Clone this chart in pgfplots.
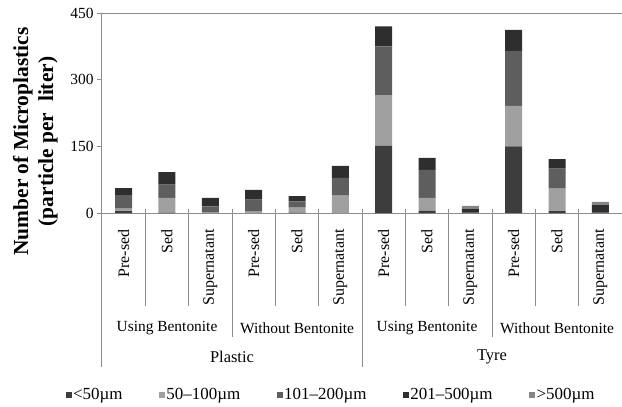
\documentclass[border=0pt]{standalone}
\usepackage{fontspec}
\setmainfont{Liberation Serif}
\usepackage{pgfplots}
\pgfplotsset{compat=1.18}

\definecolor{cA}{HTML}{3D3D3D}% <50
\definecolor{cB}{HTML}{A0A0A0}% 50-100
\definecolor{cC}{HTML}{5E5E5E}% 101-200
\definecolor{cD}{HTML}{2E2E2E}% 201-500
\definecolor{cE}{HTML}{858585}% >500
\definecolor{linecol}{HTML}{8C8C8C}

\newcommand{\fs}[1]{\fontsize{#1}{#1}\selectfont}
% separator from 4bp above the axis down to #2 below it
\newcommand{\sep}[2]{\draw[linecol, line width=1bp] ([yshift=4bp]axis cs:#1,0) -- ([yshift=-#2]axis cs:#1,0);}

\begin{document}
\begin{tikzpicture}
\begin{axis}[
    name=ax,
    scale only axis,
    width=520bp, height=200bp,
    ybar stacked, bar width=17bp,
    xmin=-0.5, xmax=11.5, ymin=0, ymax=450,
    clip=false,
    axis x line*=bottom, axis y line*=left,
    axis line style={linecol, line width=1bp},
    ytick={0,150,300,450},
    tick align=outside,
    major tick length=5bp,
    y tick style={linecol, line width=1bp},
    x tick style={draw=none},
    xtick={0,...,11},
    xticklabels={Pre-sed,Sed,Supernatant,Pre-sed,Sed,Supernatant,
                 Pre-sed,Sed,Supernatant,Pre-sed,Sed,Supernatant},
    xticklabel style={yshift=-8bp, rotate=90, anchor=east, font=\fs{16}},
    yticklabel style={font=\fs{15.5}},
    /pgf/number format/assume math mode=true,
    ylabel={Number of Microplastics\\(particle per~~liter)},
    ylabel style={at={(axis description cs:-0.128,0.3575)}, anchor=center,
                  align=center, font=\bfseries\fontsize{21.5}{25}\selectfont},
    legend columns=5,
    legend style={at={(axis description cs:0.44,-0.91)}, anchor=center,
                  draw=none, font=\fs{17},
                  nodes={inner xsep=1.5bp},
                  /tikz/every even column/.append style={column sep=35bp}},
    legend image code/.code={\fill[#1] (0bp,-3bp) rectangle (6bp,3bp);},
]
\addplot[fill=cA, draw=none] coordinates {(0,4) (1,1) (2,0) (3,0) (4,1) (5,0) (6,151) (7,5) (8,1) (9,150) (10,4) (11,1)};
\addlegendentry{<50µm}
\addplot[fill=cB, draw=none] coordinates {(0,6) (1,33) (2,1) (3,3) (4,11) (5,39) (6,114) (7,29) (8,0) (9,91) (10,51) (11,0)};
\addlegendentry{50--100µm}
\addplot[fill=cC, draw=none] coordinates {(0,30) (1,30) (2,14) (3,27) (4,14) (5,40) (6,110) (7,63) (8,0) (9,124) (10,45) (11,0)};
\addlegendentry{101--200µm}
\addplot[fill=cD, draw=none] coordinates {(0,16) (1,28) (2,19) (3,22) (4,12) (5,27) (6,45) (7,27) (8,9) (9,47) (10,21) (11,18)};
\addlegendentry{201--500µm}
\addplot[fill=cE, draw=none] coordinates {(0,0) (1,0) (2,0) (3,0) (4,0) (5,0) (6,0) (7,0) (8,6) (9,0) (10,0) (11,6)};
\addlegendentry{>500µm}

% top border line
\draw[linecol, line width=1bp] (rel axis cs:0,1) -- (rel axis cs:1,1);
% level 1 separators
\sep{0.5}{93bp}\sep{1.5}{93bp}\sep{3.5}{93bp}\sep{4.5}{93bp}
\sep{6.5}{93bp}\sep{7.5}{93bp}\sep{9.5}{93bp}\sep{10.5}{93bp}
% level 2 separators
\sep{2.5}{124bp}\sep{8.5}{124bp}
% level 3 separators
\draw[linecol, line width=1bp] (axis cs:-0.5,0) -- ([yshift=-154bp]axis cs:-0.5,0);
\sep{5.5}{154bp}

% group labels
\node[font=\fs{15.5}] at (axis cs:1,0) [yshift=-115bp] {Using Bentonite};
\node[font=\fs{15.5}] at (axis cs:4,0) [yshift=-115bp] {Without Bentonite};
\node[font=\fs{15.5}] at (axis cs:7,0) [yshift=-115bp] {Using Bentonite};
\node[font=\fs{15.5}] at (axis cs:10,0) [yshift=-115bp] {Without Bentonite};
\node[font=\fs{16.5}] at (axis cs:2.5,0) [yshift=-143.5bp] {Plastic};
\node[font=\fs{16.5}] at (axis cs:8.5,0) [yshift=-143.5bp] {Tyre};
\end{axis}
\pgfresetboundingbox
\useasboundingbox (ax.south west) ++(-102bp,-194bp) rectangle ++(622bp,407bp);
\end{tikzpicture}
\end{document}
